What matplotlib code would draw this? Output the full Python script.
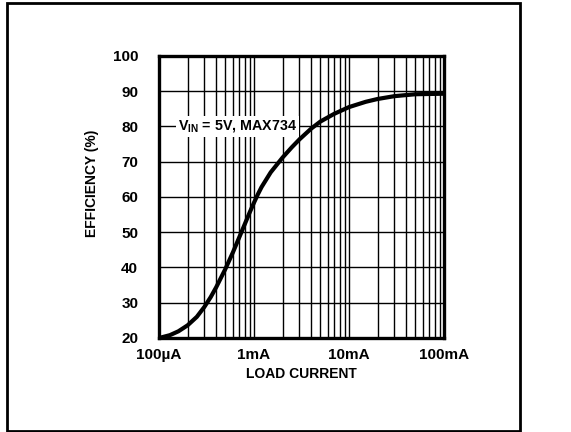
import matplotlib
matplotlib.use("Agg")
import matplotlib.pyplot as plt
from matplotlib.patches import Rectangle
from matplotlib.ticker import FixedLocator, NullFormatter

# load current (mA) and efficiency (%)
load_ma = [0.1, 0.13, 0.16, 0.2, 0.25, 0.3, 0.35, 0.4, 0.5, 0.6, 0.75, 0.9,
           1.0, 1.1, 1.2, 1.5, 2.0, 2.5, 3.0, 4.0, 5.0, 7.0, 10, 15, 20, 30, 50, 100]
efficiency = [20.0, 20.8, 21.9, 23.6, 26.0, 28.8, 31.6, 34.4, 39.6, 44.3,
              50.5, 55.6, 58.4, 60.8, 62.8, 67.0, 71.2, 74.1, 76.3, 79.4,
              81.4, 83.6, 85.5, 87.0, 87.8, 88.6, 89.15, 89.3]

x_ticks = [0.1, 1, 10, 100]
x_labels = ["100µA", "1mA", "10mA", "100mA"]
y_ticks = [20, 30, 40, 50, 60, 70, 80, 90, 100]
note = r"$\mathregular{V_{IN}}$ = 5V, MAX734"

plt.rcParams["font.family"] = ["Liberation Sans Narrow", "Arial Narrow",
                               "Liberation Sans", "DejaVu Sans"]
plt.rcParams["font.weight"] = "bold"
plt.rcParams["font.size"] = 11

fig = plt.figure(figsize=(5.71, 4.32), dpi=100)
fig.patches.append(Rectangle((0.013, 0.003), 0.898, 0.989, transform=fig.transFigure,
                             fill=False, edgecolor="black", linewidth=2))

ax = fig.add_axes([0.2785, 0.2176, 0.499, 0.6528])
ax.set_xscale("log")
ax.set_xlim(0.1, 100)
ax.set_ylim(20, 100)

minor = [m * d for d in (0.1, 1, 10) for m in range(2, 10)]
ax.xaxis.set_major_locator(FixedLocator(x_ticks))
ax.xaxis.set_minor_locator(FixedLocator(minor))
ax.xaxis.set_minor_formatter(NullFormatter())
ax.set_xticks(x_ticks)
ax.set_xticklabels(x_labels)
ax.set_yticks(y_ticks)

ax.grid(True, which="both", axis="x", color="black", linewidth=1.0)
ax.grid(True, which="major", axis="y", color="black", linewidth=1.0)
ax.tick_params(which="both", length=0)
ax.tick_params(axis="x", pad=7)
ax.tick_params(axis="y", pad=15)
for s in ax.spines.values():
    s.set_linewidth(2.4)

ax.plot(load_ma, efficiency, color="black", linewidth=3,
        solid_capstyle="round", solid_joinstyle="round", zorder=5)

ax.text(0.158, 80, note, ha="left", va="center", fontsize=10.3,
        bbox=dict(facecolor="white", edgecolor="none", pad=1.5), zorder=6)

ax.set_xlabel("LOAD CURRENT", fontsize=10, fontweight="bold", labelpad=4)
ax.set_ylabel("EFFICIENCY (%)", fontsize=10, fontweight="bold")
ax.yaxis.set_label_coords(-0.212, 0.55)

fig.savefig("out.png", dpi=100)
plt.close(fig)
